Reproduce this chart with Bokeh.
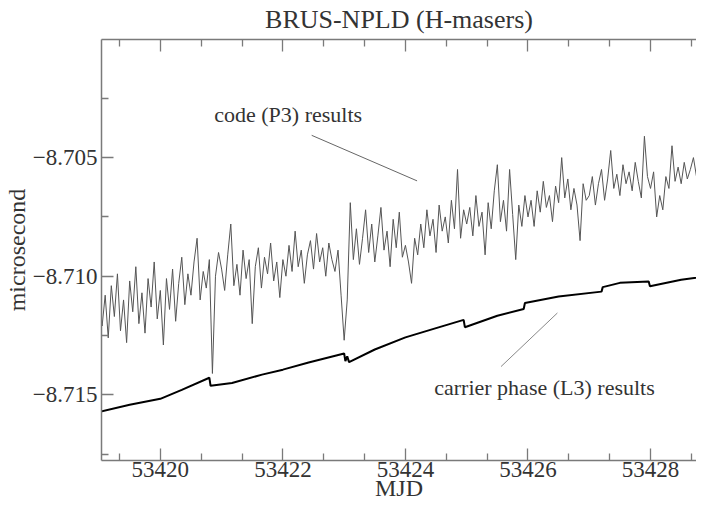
import numpy as np
from bokeh.plotting import figure
from bokeh.models import (LinearAxis, FixedTicker, NumeralTickFormatter,
                          CustomJSTickFormatter, Range1d, Label)
from bokeh.embed import file_html
from bokeh.resources import INLINE

# ---------------- data ----------------
# code (P3) results: sampled every 0.05 day starting at MJD 53419.0
code_start = 53419.0
code_step = 0.05
code_values = [
    # 53419
    -8.7112, -8.7121, -8.7108, -8.7126, -8.7104, -8.7117, -8.7099, -8.7123, -8.7110, -8.7128,
    -8.7102, -8.7115, -8.7096, -8.7120, -8.7107, -8.7124, -8.7101, -8.7113, -8.7094, -8.7118,
    # 53420
    -8.7106, -8.7129, -8.7101, -8.7114, -8.7097, -8.7119, -8.7103, -8.7092, -8.7112, -8.7099,
    -8.7108, -8.7094, -8.7084, -8.7110, -8.7098, -8.7105, -8.7093, -8.7141, -8.7100, -8.7090,
    # 53421
    -8.7097, -8.7106, -8.7091, -8.7078, -8.7104, -8.7095, -8.7108, -8.7089, -8.7101, -8.7093,
    -8.7120, -8.7096, -8.7088, -8.7105, -8.7092, -8.7099, -8.7086, -8.7102, -8.7094, -8.7109,
    # 53422
    -8.7093, -8.7100, -8.7087, -8.7098, -8.7081, -8.7096, -8.7089, -8.7103, -8.7091, -8.7085,
    -8.7097, -8.7082, -8.7094, -8.7088, -8.7100, -8.7086, -8.7093, -8.7098, -8.7089, -8.7108,
    # 53423
    -8.7127, -8.7110, -8.7069, -8.7093, -8.7080, -8.7095, -8.7084, -8.7072, -8.7090, -8.7078,
    -8.7094, -8.7083, -8.7071, -8.7089, -8.7081, -8.7096, -8.7076, -8.7088, -8.7073, -8.7092,
    # 53424
    -8.7087, -8.7094, -8.7103, -8.7084, -8.7091, -8.7078, -8.7088, -8.7072, -8.7083, -8.7076,
    -8.7090, -8.7070, -8.7081, -8.7075, -8.7086, -8.7068, -8.7080, -8.7055, -8.7084, -8.7072,
    # 53425
    -8.7078, -8.7071, -8.7083, -8.7066, -8.7079, -8.7073, -8.7091, -8.7069, -8.7080, -8.7064,
    -8.7053, -8.7077, -8.7068, -8.7081, -8.7055, -8.7074, -8.7093, -8.7070, -8.7079, -8.7066,
    # 53426
    -8.7075, -8.7068, -8.7079, -8.7064, -8.7073, -8.7060, -8.7071, -8.7066, -8.7077, -8.7062,
    -8.7069, -8.7050, -8.7067, -8.7059, -8.7072, -8.7063, -8.7070, -8.7085, -8.7061, -8.7068,
    # 53427
    -8.7066, -8.7058, -8.7070, -8.7061, -8.7055, -8.7068, -8.7059, -8.7047, -8.7063, -8.7057,
    -8.7066, -8.7053, -8.7061, -8.7056, -8.7064, -8.7052, -8.7060, -8.7067, -8.7041, -8.7058,
    # 53428
    -8.7063, -8.7056, -8.7075, -8.7066, -8.7072, -8.7058, -8.7063, -8.7045, -8.7060, -8.7054,
    -8.7061, -8.7052, -8.7059, -8.7055, -8.7050, -8.7058, -8.7053, -8.7060, -8.7083, -8.7054,
    # 53429
    -8.7056,
]
code_mjd = code_start + code_step * np.arange(len(code_values))

# carrier phase (L3) results
carrier_mjd = [53419.0, 53419.5, 53420.0, 53420.35, 53420.80, 53420.82, 53421.17,
               53421.66, 53422.0, 53422.42, 53423.0, 53423.02, 53423.05, 53423.08,
               53423.5, 53424.0, 53424.5, 53424.95, 53424.97, 53425.5, 53425.93,
               53425.95, 53426.5, 53427.2, 53427.22, 53427.5, 53427.97, 53427.99,
               53428.5, 53429.0]
carrier_values = [-8.71572, -8.71542, -8.71517, -8.71479, -8.71428, -8.71462, -8.71450,
                  -8.71415, -8.71394, -8.71364, -8.71326, -8.71358, -8.71338, -8.71362,
                  -8.71309, -8.71258, -8.71219, -8.71184, -8.71215, -8.71167, -8.71138,
                  -8.71113, -8.71086, -8.71065, -8.71046, -8.71028, -8.71022, -8.71042,
                  -8.71015, -8.70997]

x_major = [53420, 53422, 53424, 53426, 53428]
x_minor = [53419.333, 53420.667, 53421.333, 53422.667, 53423.333, 53424.667,
           53425.333, 53426.667, 53427.333, 53428.667]
y_major = [-8.715, -8.710, -8.705]
y_minor = [-8.7175, -8.7125, -8.7075, -8.7025]

# annotation texts and pointer lines (data coords)
code_note = dict(text="code (P3) results", x=53420.88, y=-8.7032)
code_ptr_x = [53422.47, 53424.19]
code_ptr_y = [-8.70406, -8.70598]
carrier_note = dict(text="carrier phase (L3) results", x=53424.47, y=-8.7147)
carrier_ptr_x = [53425.56, 53426.48]
carrier_ptr_y = [-8.71381, -8.71155]

FONT = "Liberation Serif"
TXT = "#333333"
AXC = "#7a7a7a"

p = figure(width=696, height=503, output_backend="svg", toolbar_location=None,
           x_range=Range1d(53419.04, 53428.75), y_range=Range1d(-8.71777, -8.70002),
           min_border_left=0, min_border_right=0, min_border_top=35,
           min_border_bottom=0)
p.background_fill_color = "white"
p.border_fill_color = "white"
p.outline_line_color = None
p.xgrid.visible = False
p.ygrid.visible = False

p.title.text = "BRUS-NPLD (H-masers)"
p.title.align = "center"
p.title.vertical_align = "top"
p.title.text_font = FONT
p.title.text_font_size = "26px"
p.title.text_font_style = "normal"
p.title.text_color = TXT
p.title.standoff = 8


def style_axis(ax, ticks, minor, labels=True):
    ax.ticker = FixedTicker(ticks=ticks, minor_ticks=minor)
    ax.axis_line_color = AXC
    ax.axis_line_width = 1.5
    ax.major_tick_line_color = AXC
    ax.minor_tick_line_color = AXC
    ax.major_tick_line_width = 1.3
    ax.minor_tick_line_width = 1.3
    ax.major_tick_in = 12
    ax.major_tick_out = 0
    ax.minor_tick_in = 7
    ax.minor_tick_out = 0
    ax.major_label_text_font = FONT
    ax.major_label_text_color = TXT
    ax.major_label_text_font_size = "23px"
    if not labels:
        ax.major_label_overrides = {t: "" for t in ticks}
        ax.major_label_standoff = 0
        ax.axis_label_standoff = 0
    ax.axis_label_text_font = FONT
    ax.axis_label_text_font_style = "normal"
    ax.axis_label_text_font_size = "24px"
    ax.axis_label_text_color = TXT


bx = p.xaxis[0]
style_axis(bx, x_major, x_minor)
bx.formatter = NumeralTickFormatter(format="0")
bx.axis_label = "MJD"
bx.major_label_standoff = 1
bx.axis_label_standoff = -5

ly = p.yaxis[0]
style_axis(ly, y_major, y_minor)
ly.formatter = CustomJSTickFormatter(
    code="return tick.toFixed(3).replace('-', '\u2212');")
ly.axis_label = "microsecond"
ly.major_label_standoff = 4
ly.axis_label_standoff = 0

top = LinearAxis()
style_axis(top, x_major, x_minor, labels=False)
p.add_layout(top, "above")

# series
p.line(code_mjd, code_values, line_color="#555555", line_width=1)
p.line(carrier_mjd, carrier_values, line_color="black", line_width=2)

# annotations
p.line(code_ptr_x, code_ptr_y, line_color="#666666", line_width=1)
p.line(carrier_ptr_x, carrier_ptr_y, line_color="#888888", line_width=1)
for note in (code_note, carrier_note):
    p.add_layout(Label(x=note["x"], y=note["y"], text=note["text"],
                       text_font=FONT, text_font_size="22px",
                       text_color=TXT, text_baseline="middle"))

open("out.html", "w").write(file_html(p, INLINE))
